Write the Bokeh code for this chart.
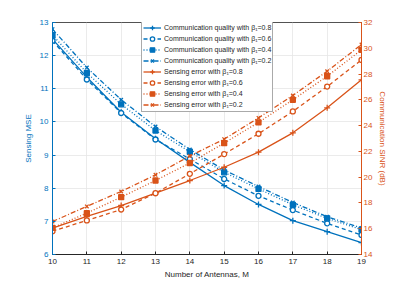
from bokeh.plotting import figure
from bokeh.models import Range1d, LinearAxis, Legend, LegendItem, Label, FixedTicker
from bokeh.embed import file_html
from bokeh.resources import INLINE

antennas = [10, 11, 12, 13, 14, 15, 16, 17, 18, 19]

# Sensing MSE (x1e-3), left axis
mse_b08 = [12.50, 11.35, 10.29, 9.49, 8.78, 8.08, 7.51, 7.02, 6.69, 6.36]
mse_b06 = [12.45, 11.28, 10.27, 9.47, 8.88, 8.28, 7.77, 7.34, 6.94, 6.59]
mse_b04 = [12.62, 11.48, 10.53, 9.74, 9.10, 8.48, 7.98, 7.50, 7.09, 6.75]
mse_b02 = [12.80, 11.64, 10.67, 9.86, 9.17, 8.55, 8.05, 7.57, 7.14, 6.80]

# Communication SINR (dB), right axis
sinr_b08 = [16.04, 16.95, 17.80, 18.76, 19.74, 20.77, 21.94, 23.44, 25.38, 27.55]
sinr_b06 = [15.81, 16.64, 17.49, 18.76, 20.26, 21.79, 23.37, 25.10, 27.03, 29.10]
sinr_b04 = [16.07, 17.21, 18.45, 19.74, 21.10, 22.64, 24.25, 26.00, 27.83, 29.88]
sinr_b02 = [16.56, 17.73, 18.89, 20.18, 21.64, 22.95, 24.60, 26.34, 28.22, 30.29]

betas = ["0.8", "0.6", "0.4", "0.2"]
left_ticks = [6, 7, 8, 9, 10, 11, 12, 13]
right_ticks = [14, 16, 18, 20, 22, 24, 26, 28, 30, 32]

BLUE = "#0072BD"
ORANGE = "#D95319"
DARK = "#262626"
FONT = "Liberation Sans"

p = figure(width=399, height=285, output_backend="svg", toolbar_location=None,
           x_range=Range1d(10, 19), y_range=Range1d(6, 13),
           min_border_left=52, min_border_right=38, min_border_top=22, min_border_bottom=31)
p.extra_y_ranges = {"r": Range1d(14, 32)}
p.background_fill_color = "white"
p.outline_line_color = DARK
p.outline_line_width = 0.8

# axes
p.xaxis.ticker = FixedTicker(ticks=antennas)
p.yaxis.ticker = FixedTicker(ticks=left_ticks)
p.xaxis.axis_label = "Number of Antennas, M"
p.yaxis.axis_label = "Sensing MSE"
for ax in [p.xaxis[0], p.yaxis[0]]:
    ax.major_tick_in = 3
    ax.major_tick_out = 0
    ax.minor_tick_line_color = None
    ax.major_label_text_font = FONT
    ax.major_label_text_font_size = "8px"
    ax.axis_label_text_font = FONT
    ax.axis_label_text_font_size = "8px"
    ax.axis_label_text_font_style = "normal"
    ax.major_label_standoff = 4
    ax.axis_label_standoff = 4
p.xaxis.axis_label_standoff = 3
p.xaxis.axis_line_color = DARK
p.xaxis.major_tick_line_color = DARK
p.xaxis.major_label_text_color = DARK
p.xaxis.axis_label_text_color = DARK
p.yaxis.axis_line_color = BLUE
p.yaxis.major_tick_line_color = BLUE
p.yaxis.major_label_text_color = BLUE
p.yaxis.axis_label_text_color = BLUE
p.yaxis.axis_line_width = 1

ry = LinearAxis(y_range_name="r", ticker=FixedTicker(ticks=right_ticks),
                axis_label="Communication SINR (dB)")
ry.major_tick_in = 3
ry.major_tick_out = 0
ry.minor_tick_line_color = None
ry.axis_line_color = ORANGE
ry.major_tick_line_color = ORANGE
ry.major_label_text_color = ORANGE
ry.axis_label_text_color = ORANGE
ry.major_label_text_font = FONT
ry.major_label_text_font_size = "8px"
ry.axis_label_text_font = FONT
ry.axis_label_text_font_size = "8px"
ry.axis_label_text_font_style = "normal"
ry.major_label_standoff = 2
ry.axis_label_standoff = 3
p.add_layout(ry, "right")

p.xgrid.ticker = FixedTicker(ticks=antennas)
p.ygrid.ticker = FixedTicker(ticks=left_ticks)
p.xgrid.grid_line_color = "#e6e6e6"
p.ygrid.grid_line_color = "#e6e6e6"
p.xgrid.grid_line_width = 0.8
p.ygrid.grid_line_width = 0.8

dashes = ["solid", "4 3", "1 2", "5 2 1 2"]
markers = ["cross", "circle", "square", "x"]
fills = [None, "white", None, None]

items = []

def add_series(ys, color, dash, marker, fill, label, rng):
    kw = {} if rng is None else {"y_range_name": rng}
    lr = p.line(antennas, ys, line_color=color, line_width=1.3, line_dash=dash, **kw)
    fc = color if fill is None else fill
    sr = p.scatter(antennas, ys, marker=marker, size=5 if marker != "cross" else 6,
                   line_color=color, fill_color=fc, line_width=1.3, **kw)
    items.append(LegendItem(label=label, renderers=[lr, sr]))

for ys, d, m, f, b in zip([mse_b08, mse_b06, mse_b04, mse_b02], dashes, markers, fills, betas):
    add_series(ys, BLUE, d, m, f, "Communication quality with \u03b2\u2081=" + b, None)
for ys, d, m, f, b in zip([sinr_b08, sinr_b06, sinr_b04, sinr_b02], dashes, markers, fills, betas):
    add_series(ys, ORANGE, d, m, f, "Sensing error with \u03b2\u2081=" + b, "r")

legend = Legend(items=items, location=(89, 142))
legend.label_text_font = FONT
legend.label_text_font_size = "7px"
legend.label_text_color = DARK
legend.label_height = 11
legend.glyph_height = 11
legend.glyph_width = 18
legend.label_standoff = 3
legend.spacing = 0
legend.padding = 1
legend.margin = 0
legend.border_line_color = "#555555"
legend.border_line_width = 0.8
legend.background_fill_alpha = 1
p.add_layout(legend)

p.add_layout(Label(x=10, y=13, x_offset=2, y_offset=1, text="\u00d710\u207b\u00b3",
                   text_font=FONT, text_font_size="7px", text_color=BLUE,
                   text_baseline="bottom"))

open("out.html", "w").write(file_html(p, INLINE))
